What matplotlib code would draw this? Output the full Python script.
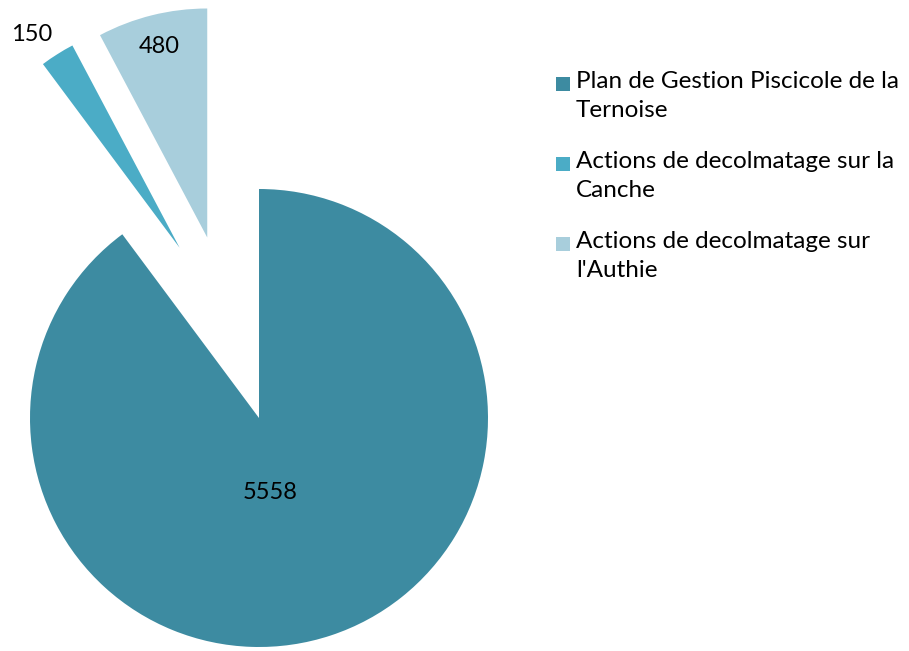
import numpy as np
import matplotlib
matplotlib.use("Agg")
import matplotlib.pyplot as plt
from matplotlib.patches import Rectangle
from matplotlib.legend_handler import HandlerPatch

# data
labels = ["Plan de Gestion Piscicole de la\nTernoise",
          "Actions de decolmatage sur la\nCanche",
          "Actions de decolmatage sur\nl'Authie"]
values = [5558, 150, 480]
colors = ["#3D8BA1", "#4BACC6", "#A8CEDC"]
explode = [0, 0.82, 0.82]          # pull-out distance (radius units)
explode_dir = [0, 115, 106]        # direction of pull-out (deg)
label_dist = [0.33, 1.135, 0.86]   # value label distance from slice apex
label_turn = [-9.5, 2.4, 0]        # small angle tweak for label (deg)

plt.rcParams['font.family'] = ['Lato', 'DejaVu Sans']

fig = plt.figure(figsize=(9.09, 6.51), dpi=100)
ax = fig.add_axes([0, 0, 1, 1])

wedges, _ = ax.pie(values, colors=colors, startangle=90, counterclock=False,
                   radius=1, center=(0, 0))

for w, v, e, ed, d, t in zip(wedges, values, explode, explode_dir, label_dist, label_turn):
    cx = e * np.cos(np.deg2rad(ed))
    cy = e * np.sin(np.deg2rad(ed))
    w.set_center((cx, cy))
    mid = np.deg2rad((w.theta1 + w.theta2) / 2 + t)
    ax.text(cx + d * np.cos(mid), cy + d * np.sin(mid), str(v),
            ha="center", va="center", fontsize=17, color="black")

# pixel layout: pie centre ~ (259, 418), radius ~229 px
r_px = 229
ax.set_xlim(-259 / r_px, (909 - 259) / r_px)
ax.set_ylim(-(651 - 418) / r_px, 418 / r_px)
ax.set_aspect("equal")
ax.axis("off")


# legend square sits next to the first text line, like Excel
def top_square(legend, orig_handle, xdescent, ydescent, width, height, fontsize):
    return Rectangle((-xdescent, -ydescent + 8.5), width, height)


leg = ax.legend(wedges, labels, loc="upper left", bbox_to_anchor=(0.612, 0.891),
                bbox_transform=fig.transFigure, frameon=False, fontsize=17.5,
                handlelength=0.55, handleheight=0.55, handletextpad=0.25,
                labelspacing=1.25, borderaxespad=0, borderpad=0,
                handler_map={w: HandlerPatch(patch_func=top_square) for w in wedges})
for txt in leg.get_texts():
    txt.set_linespacing(1.45)

fig.savefig("out.png", dpi=100)
